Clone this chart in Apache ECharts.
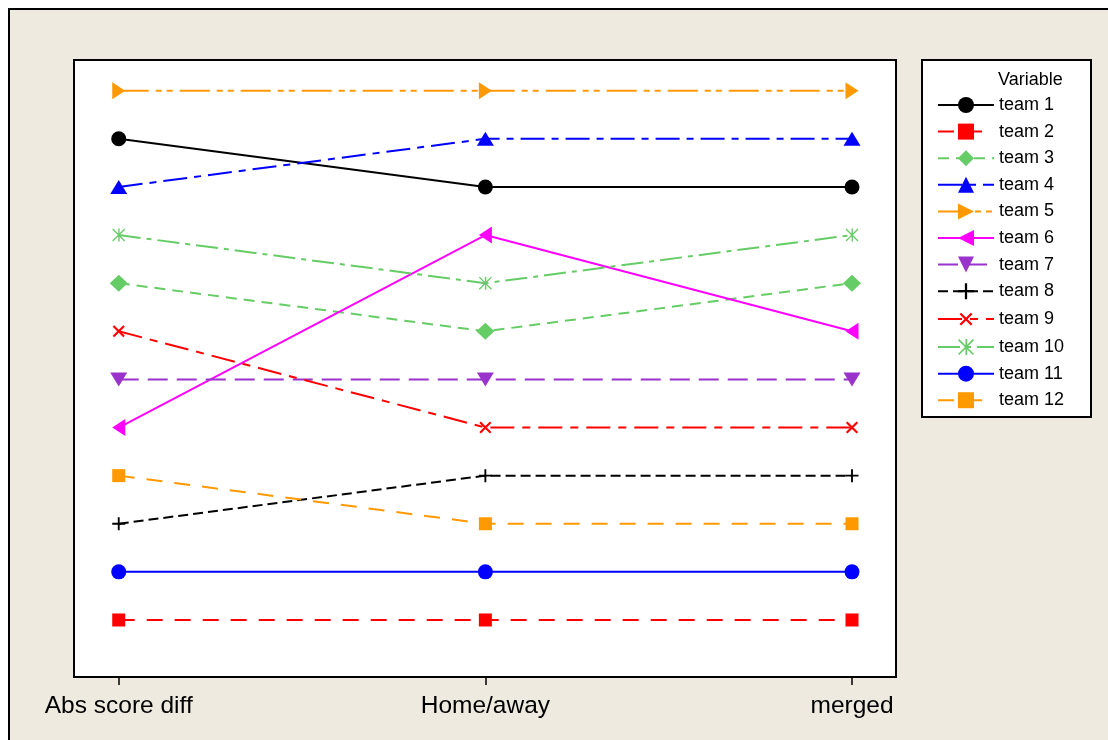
<!DOCTYPE html>
<html>
<head>
<meta charset="utf-8">
<script src="https://cdn.jsdelivr.net/npm/echarts@6/dist/echarts.min.js"></script>
<style>
    html, body { margin: 0; padding: 0; background: #ffffff; overflow: hidden; width: 1108px; height: 740px; }
    #frame {
        position: absolute; left: 8px; top: 8px; width: 1110px; height: 740px;
        background: #EEEAE0; border-left: 2px solid #000; border-top: 2px solid #000;
    }
    #chart { position: absolute; left: 0; top: 0; width: 1108px; height: 740px; }
</style>
</head>
<body>
<div id="frame"></div>
<div id="chart"></div>
<script>
(function () {

    // categories on the x axis
    var CATEGORIES = ['Abs score diff', 'Home/away', 'merged'];

    // rank of each team per category (1 = top)
    var TEAM1 = [2, 3, 3];
    var TEAM2 = [12, 12, 12];
    var TEAM3 = [5, 6, 5];
    var TEAM4 = [3, 2, 2];
    var TEAM5 = [1, 1, 1];
    var TEAM6 = [8, 4, 6];
    var TEAM7 = [7, 7, 7];
    var TEAM8 = [10, 9, 9];
    var TEAM9 = [6, 8, 8];
    var TEAM10 = [4, 5, 4];
    var TEAM11 = [11, 11, 11];
    var TEAM12 = [9, 10, 10];

    var NAMES = ['team 1', 'team 2', 'team 3', 'team 4', 'team 5', 'team 6',
                 'team 7', 'team 8', 'team 9', 'team 10', 'team 11', 'team 12'];
    var RANKS = [TEAM1, TEAM2, TEAM3, TEAM4, TEAM5, TEAM6,
                 TEAM7, TEAM8, TEAM9, TEAM10, TEAM11, TEAM12];

    var PLUS = 'path://M6,0h2v14h-2z M0,6h14v2h-14z';
    var STAR = 'path://M0,1L1,0L14,13L13,14Z M13,0L14,1L1,14L0,13Z M6.5,0h1.5v14h-1.5z';

    // marker + line look of each team
    var STYLES = [
        { color: '#000000', symbol: 'circle', size: 15, rot: 0, dash: 'solid' },
        { color: '#FF0000', symbol: 'rect', size: 13, rot: 0, dash: [16, 12] },
        { color: '#66CC66', symbol: 'diamond', size: [18, 17], rot: 0, dash: [11, 7] },
        { color: '#0000FF', symbol: 'triangle', size: [17, 14], rot: 0, dash: [24, 7, 7, 7] },
        { color: '#FF9900', symbol: 'triangle', size: [17, 13], rot: -90, dash: [30, 7, 6, 5, 6, 7] },
        { color: '#FF00FF', symbol: 'triangle', size: [17, 13], rot: 90, dash: 'solid' },
        { color: '#9933CC', symbol: 'triangle', size: [17, 14], rot: 180, dash: [20, 9] },
        { color: '#000000', symbol: PLUS, size: 13, rot: 0, dash: [10, 5] },
        { color: '#FF0000', symbol: PLUS, size: 15, rot: 45, dash: [24, 8, 8, 8] },
        { color: '#66CC66', symbol: STAR, size: 13, rot: 0, dash: [22, 6, 5, 6] },
        { color: '#0000FF', symbol: 'circle', size: 15, rot: 0, dash: 'solid' },
        { color: '#FF9900', symbol: 'rect', size: 13, rot: 0, dash: [16, 12] }
    ];

    var FONT = '"Liberation Sans", Arial, sans-serif';

    var series = [];
    for (var i = 0; i < NAMES.length; i++) {
        var st = STYLES[i];
        var pts = [];
        for (var c = 0; c < CATEGORIES.length; c++) {
            pts.push([c, RANKS[i][c]]);
        }
        series.push({
            name: NAMES[i],
            type: 'line',
            data: pts,
            symbol: st.symbol,
            symbolSize: st.size,
            symbolRotate: st.rot,
            showAllSymbol: true,
            animation: false,
            itemStyle: { color: st.color },
            lineStyle: { color: st.color, width: 2, type: st.dash },
            emphasis: { disabled: true }
        });
    }

    var chart = echarts.init(document.getElementById('chart'));

    chart.setOption({
        backgroundColor: 'transparent',
        animation: false,
        grid: {
            left: 74, top: 60, width: 822, height: 617,
            show: true, backgroundColor: '#ffffff',
            borderColor: '#000000', borderWidth: 2
        },
        xAxis: {
            type: 'value',
            min: -0.122,
            max: 2.12,
            splitLine: { show: false },
            axisLine: { show: true, lineStyle: { color: '#000000', width: 2 } },
            axisTick: {
                show: true, length: 8, customValues: [0, 1, 2],
                lineStyle: { color: '#000000', width: 1.5 }
            },
            axisLabel: {
                customValues: [0, 1, 2],
                margin: 17,
                fontFamily: FONT,
                fontSize: 24.5,
                color: '#000000',
                formatter: function (v) { return CATEGORIES[Math.round(v)]; }
            }
        },
        yAxis: {
            type: 'value',
            inverse: true,
            min: 0.362,
            max: 13.185,
            show: false,
            splitLine: { show: false }
        },
        legend: {
            orient: 'vertical',
            left: 932,
            top: 90,
            itemWidth: 56,
            itemHeight: 20,
            itemGap: 6.6,
            selectedMode: false,
            data: NAMES,
            textStyle: {
                fontFamily: FONT, fontSize: 18, color: '#000000',
                lineHeight: 20
            },
            z: 10
        },
        graphic: [
            {
                type: 'rect',
                shape: { x: 922, y: 60, width: 169, height: 357 },
                style: { fill: '#ffffff', stroke: '#000000', lineWidth: 2 },
                z: 1
            },
            {
                type: 'text',
                left: 998,
                top: 71,
                style: { text: 'Variable', fontFamily: FONT, fontSize: 18, fill: '#000000' },
                z: 2
            }
        ],
        series: series
    });

}());
</script>
</body>
</html>
